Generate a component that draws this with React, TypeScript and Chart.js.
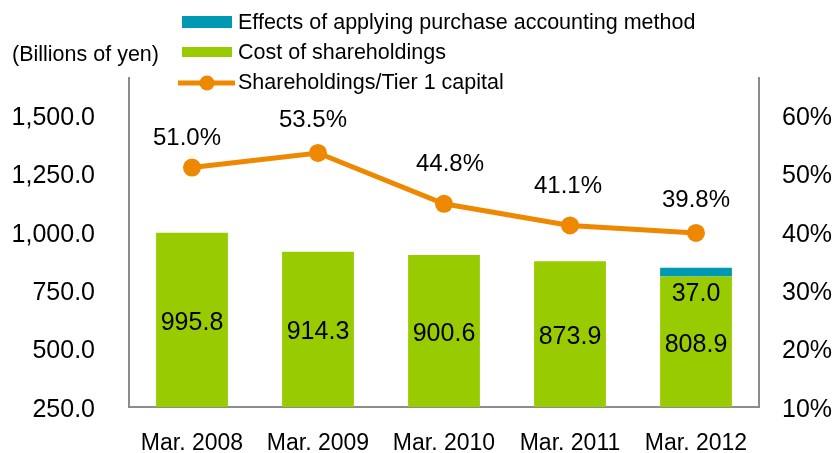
import React, { useEffect, useRef } from 'react';
import { Chart, registerables } from 'chart.js';

Chart.register(...registerables);

const categories = ['Mar. 2008', 'Mar. 2009', 'Mar. 2010', 'Mar. 2011', 'Mar. 2012'];
const costOfShareholdings = [995.8, 914.3, 900.6, 873.9, 808.9];
const purchaseAccountingEffects: (number | null)[] = [null, null, null, null, 37.0];
const shareholdingsRatio = [51.0, 53.5, 44.8, 41.1, 39.8];
const leftTicks = [250, 500, 750, 1000, 1250, 1500];
const rightTicks = [10, 20, 30, 40, 50, 60];

const legendLabels = [
  'Effects of applying purchase accounting method',
  'Cost of shareholdings',
  'Shareholdings/Tier 1 capital',
];
const unitTitle = '(Billions of yen)';

const GREEN = '#99CC00';
const TEAL = '#0099B4';
const ORANGE = '#EE8800';
const AXIS = '#8C8C8C';
const FONT = '"Liberation Sans", Arial, sans-serif';

// placement of the percentage labels relative to their points (style only)
const pctLabelDy = [-29, -33, -39, -39, -33];
const pctLabelDx = [-5, -5, 6, -2, 0];

const labelPlugin = {
  id: 'valueLabels',
  afterDatasetsDraw(chart: any) {
    const ctx = chart.ctx;
    const bottom = chart.chartArea.bottom;
    ctx.save();
    ctx.fillStyle = '#000';
    ctx.textAlign = 'center';
    ctx.textBaseline = 'middle';
    ctx.font = `25px ${FONT}`;
    const costMeta = chart.getDatasetMeta(0);
    costMeta.data.forEach((bar: any, i: number) => {
      const p = bar.getProps(['x', 'y', 'base'], true);
      const base = Math.min(p.base, bottom);
      ctx.fillText(costOfShareholdings[i].toFixed(1), p.x, (p.y + base) / 2 + 3);
    });
    const effMeta = chart.getDatasetMeta(1);
    effMeta.data.forEach((bar: any, i: number) => {
      const v = purchaseAccountingEffects[i];
      if (v == null) return;
      const p = bar.getProps(['x', 'base'], true);
      ctx.fillText(v.toFixed(1), p.x, p.base + 18);
    });
    ctx.font = `24px ${FONT}`;
    const lineMeta = chart.getDatasetMeta(2);
    lineMeta.data.forEach((pt: any, i: number) => {
      ctx.fillText(shareholdingsRatio[i].toFixed(1) + '%', pt.x + pctLabelDx[i], pt.y + pctLabelDy[i]);
    });
    ctx.restore();
  },
};

const legendPlugin = {
  id: 'customLegend',
  afterDraw(chart: any) {
    const ctx = chart.ctx;
    ctx.save();
    ctx.font = `21.5px ${FONT}`;
    ctx.fillStyle = '#000';
    ctx.textBaseline = 'middle';
    ctx.textAlign = 'left';
    ctx.fillText(unitTitle, 12, 55);

    const rows = [22, 52, 82];
    ctx.fillStyle = TEAL;
    ctx.fillRect(182, rows[0] - 6, 50, 12);
    ctx.fillStyle = GREEN;
    ctx.fillRect(182, rows[1] - 5, 50, 10);
    ctx.strokeStyle = ORANGE;
    ctx.lineWidth = 5;
    ctx.beginPath();
    ctx.moveTo(178, rows[2] + 1);
    ctx.lineTo(235, rows[2] + 1);
    ctx.stroke();
    ctx.fillStyle = ORANGE;
    ctx.beginPath();
    ctx.arc(207, rows[2] + 1, 7.5, 0, Math.PI * 2);
    ctx.fill();

    ctx.fillStyle = '#000';
    legendLabels.forEach((t, i) => ctx.fillText(t, 238, rows[i] + 1));
    ctx.restore();
  },
};

export default function App() {
  const canvasRef = useRef<HTMLCanvasElement | null>(null);

  useEffect(() => {
    if (!canvasRef.current) return;
    const chart = new Chart(canvasRef.current, {
      type: 'bar',
      data: {
        labels: categories,
        datasets: [
          {
            type: 'bar',
            label: legendLabels[1],
            data: costOfShareholdings,
            backgroundColor: GREEN,
            yAxisID: 'y',
            stack: 's',
            order: 1,
            categoryPercentage: 1,
            barPercentage: 0.57,
          },
          {
            type: 'bar',
            label: legendLabels[0],
            data: purchaseAccountingEffects,
            backgroundColor: TEAL,
            yAxisID: 'y',
            stack: 's',
            order: 1,
            categoryPercentage: 1,
            barPercentage: 0.57,
          },
          {
            type: 'line',
            label: legendLabels[2],
            data: shareholdingsRatio,
            borderColor: ORANGE,
            backgroundColor: ORANGE,
            borderWidth: 5,
            pointRadius: 9,
            pointBorderWidth: 0,
            pointBackgroundColor: ORANGE,
            yAxisID: 'y1',
            order: 0,
            tension: 0,
          } as any,
        ],
      },
      options: {
        animation: false,
        responsive: false,
        maintainAspectRatio: false,
        layout: { padding: { top: 78, left: 0, right: 0, bottom: 0 } },
        plugins: {
          legend: { display: false },
          tooltip: { enabled: false },
        },
        scales: {
          x: {
            stacked: true,
            grid: { display: false, drawTicks: false },
            border: { display: true, color: AXIS, width: 2 },
            ticks: {
              color: '#000',
              font: { family: FONT, size: 23 },
              padding: 23,
              maxRotation: 0,
              autoSkip: false,
            },
            afterFit: (scale: any) => {
              scale.height = 46;
            },
          },
          y: {
            position: 'left',
            stacked: true,
            min: 250,
            max: 1658,
            grid: { display: false, drawTicks: false },
            border: { display: true, color: AXIS, width: 2 },
            ticks: {
              color: '#000',
              font: { family: FONT, size: 25, lineHeight: '6px' },
              padding: 34,
              callback: (v: any) => [
                '',
                Number(v).toLocaleString('en-US', { minimumFractionDigits: 1, maximumFractionDigits: 1 }),
              ],
            },
            afterBuildTicks: (scale: any) => {
              scale.ticks = leftTicks.map((v) => ({ value: v }));
            },
            afterFit: (scale: any) => {
              scale.width = 129;
            },
          },
          y1: {
            position: 'right',
            min: 10,
            max: 66.34,
            grid: { display: false, drawTicks: false },
            border: { display: true, color: AXIS, width: 2 },
            ticks: {
              color: '#000',
              font: { family: FONT, size: 25, lineHeight: '6px' },
              padding: 23,
              callback: (v: any) => ['', `${v}%`],
            },
            afterBuildTicks: (scale: any) => {
              scale.ticks = rightTicks.map((v) => ({ value: v }));
            },
            afterFit: (scale: any) => {
              scale.width = 79;
            },
          },
        },
      },
      plugins: [labelPlugin, legendPlugin],
    });
    return () => chart.destroy();
  }, []);

  return (
    <div style={{ position: 'absolute', left: 0, top: 0, width: 838, height: 453, background: '#fff' }}>
      <canvas ref={canvasRef} width={838} height={453} style={{ display: 'block', width: 838, height: 453 }} />
    </div>
  );
}
